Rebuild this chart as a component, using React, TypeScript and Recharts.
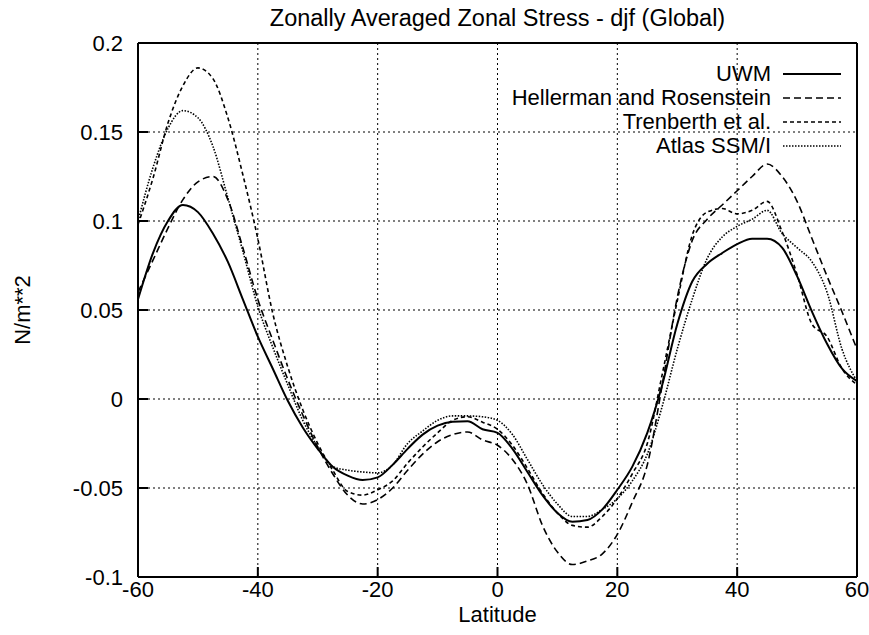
import { LineChart, Line, XAxis, YAxis, CartesianGrid } from 'recharts'

const latitudes = [
  -60, -57.5, -55, -52.5, -50, -47.5, -45, -42.5, -40, -37.5,
  -35, -32.5, -30, -27.5, -25, -22.5, -20, -17.5, -15, -12.5,
  -10, -7.5, -5, -2.5, 0, 2.5, 5, 7.5, 10, 12.5,
  15, 17.5, 20, 22.5, 25, 27.5, 30, 32.5, 35, 37.5,
  40, 42.5, 45, 47.5, 50, 52.5, 55, 57.5, 60,
]

const uwm = [
  0.056, 0.082, 0.100, 0.109, 0.105, 0.093, 0.077, 0.056, 0.035, 0.017,
  -0.001, -0.016, -0.028, -0.038, -0.043, -0.0455, -0.044, -0.037, -0.028, -0.020,
  -0.015, -0.0128, -0.0125, -0.017, -0.019, -0.028, -0.041, -0.054, -0.064, -0.069,
  -0.068, -0.062, -0.051, -0.038, -0.019, 0.008, 0.042, 0.066, 0.076, 0.082,
  0.087, 0.090, 0.090, 0.085, 0.069, 0.049, 0.031, 0.017, 0.010,
]

const hellerman = [
  0.060, 0.078, 0.096, 0.112, 0.122, 0.125, 0.112, 0.085, 0.056, 0.033,
  0.011, -0.009, -0.027, -0.042, -0.054, -0.059, -0.0565, -0.050, -0.040, -0.031,
  -0.024, -0.020, -0.0185, -0.023, -0.026, -0.034, -0.048, -0.071, -0.086, -0.093,
  -0.091, -0.087, -0.076, -0.058, -0.037, 0.008, 0.057, 0.089, 0.101, 0.109,
  0.117, 0.125, 0.132, 0.125, 0.111, 0.090, 0.069, 0.049, 0.028,
]

const trenberth = [
  0.098, 0.124, 0.155, 0.176, 0.186, 0.180, 0.158, 0.126, 0.090, 0.048,
  0.018, -0.006, -0.025, -0.040, -0.052, -0.054, -0.051, -0.046, -0.036, -0.027,
  -0.019, -0.012, -0.010, -0.013, -0.017, -0.026, -0.039, -0.053, -0.064, -0.071,
  -0.072, -0.066, -0.056, -0.042, -0.025, 0.014, 0.055, 0.092, 0.105, 0.107,
  0.104, 0.106, 0.111, 0.094, 0.070, 0.042, 0.035, 0.017, 0.008,
]

const atlas = [
  0.100, 0.130, 0.152, 0.162, 0.158, 0.142, 0.113, 0.083, 0.052, 0.029,
  0.008, -0.012, -0.027, -0.038, -0.040, -0.041, -0.0415, -0.037, -0.025, -0.018,
  -0.012, -0.0095, -0.0095, -0.010, -0.012, -0.020, -0.034, -0.048, -0.059, -0.066,
  -0.066, -0.062, -0.056, -0.046, -0.031, -0.004, 0.028, 0.056, 0.079, 0.091,
  0.097, 0.101, 0.106, 0.093, 0.085, 0.077, 0.060, 0.028, 0.010,
]

const xTicks = [-60, -40, -20, 0, 20, 40, 60]
const yTicks = [-0.1, -0.05, 0, 0.05, 0.1, 0.15, 0.2]

const data = latitudes.map((lat, i) => ({
  lat,
  uwm: uwm[i],
  hellerman: hellerman[i],
  trenberth: trenberth[i],
  atlas: atlas[i],
}))

const series = [
  { key: 'uwm', name: 'UWM', dash: undefined, width: 2 },
  { key: 'hellerman', name: 'Hellerman and Rosenstein', dash: '7 4', width: 1.6 },
  { key: 'trenberth', name: 'Trenberth et al.', dash: '4 3', width: 1.6 },
  { key: 'atlas', name: 'Atlas SSM/I', dash: '1.5 1.5', width: 1.6 },
]

const font = '"Liberation Sans", Arial, Helvetica, sans-serif'
const tickStyle = { fill: '#000', fontSize: 22, fontFamily: font }

export default function App() {
  return (
    <div style={{ position: 'absolute', left: 0, top: 0, width: 869, height: 635, background: '#fff', fontFamily: font }}>
      <div style={{ position: 'absolute', top: 7, left: 138, width: 719, textAlign: 'center', fontSize: 23.5, lineHeight: '23px', color: '#000' }}>
        Zonally Averaged Zonal Stress - djf (Global)
      </div>
      <LineChart width={869} height={635} data={data} margin={{ top: 42, right: 11, bottom: 0, left: 0 }}>
        <CartesianGrid stroke="#000" strokeDasharray="2 3" strokeWidth={1} horizontalValues={yTicks} verticalValues={xTicks} />
        <XAxis
          dataKey="lat"
          type="number"
          domain={[-60, 60]}
          ticks={xTicks}
          height={58}
          tickSize={-10}
          tickMargin={14}
          tick={tickStyle}
          axisLine={{ stroke: '#000', strokeWidth: 2 }}
          tickLine={{ stroke: '#000', strokeWidth: 2 }}
          label={{ value: 'Latitude', position: 'insideBottom', offset: 13, fill: '#000', fontSize: 22, fontFamily: font }}
        />
        <XAxis
          xAxisId="top"
          orientation="top"
          dataKey="lat"
          type="number"
          domain={[-60, 60]}
          ticks={xTicks}
          height={1}
          tickSize={-10}
          tick={false}
          axisLine={{ stroke: '#000', strokeWidth: 2 }}
          tickLine={{ stroke: '#000', strokeWidth: 2 }}
        />
        <YAxis
          type="number"
          domain={[-0.1, 0.2]}
          ticks={yTicks}
          width={138}
          tickSize={-10}
          tickMargin={25}
          tick={tickStyle}
          axisLine={{ stroke: '#000', strokeWidth: 2 }}
          tickLine={{ stroke: '#000', strokeWidth: 2 }}
          label={{ value: 'N/m**2', angle: -90, position: 'insideLeft', offset: 22, fill: '#000', fontSize: 22, fontFamily: font, style: { textAnchor: 'middle' } }}
        />
        <YAxis
          yAxisId="right"
          orientation="right"
          type="number"
          domain={[-0.1, 0.2]}
          ticks={yTicks}
          width={1}
          tickSize={-10}
          tick={false}
          axisLine={{ stroke: '#000', strokeWidth: 2 }}
          tickLine={{ stroke: '#000', strokeWidth: 2 }}
        />
        {series.map((s) => (
          <Line
            key={s.key}
            type="monotone"
            dataKey={s.key}
            name={s.name}
            stroke="#000"
            strokeWidth={s.width}
            strokeDasharray={s.dash}
            dot={false}
            isAnimationActive={false}
          />
        ))}
      </LineChart>
      <div style={{ position: 'absolute', top: 62, right: 22, fontSize: 22, lineHeight: '24px', color: '#000' }}>
        {series.map((s) => (
          <div key={s.key} style={{ display: 'flex', justifyContent: 'flex-end', alignItems: 'center' }}>
            <span>{s.name}</span>
            <svg width={70} height={24} style={{ marginLeft: 6 }}>
              <line x1={6} y1={12} x2={64} y2={12} stroke="#000" strokeWidth={s.width} strokeDasharray={s.dash} />
            </svg>
          </div>
        ))}
      </div>
    </div>
  )
}
